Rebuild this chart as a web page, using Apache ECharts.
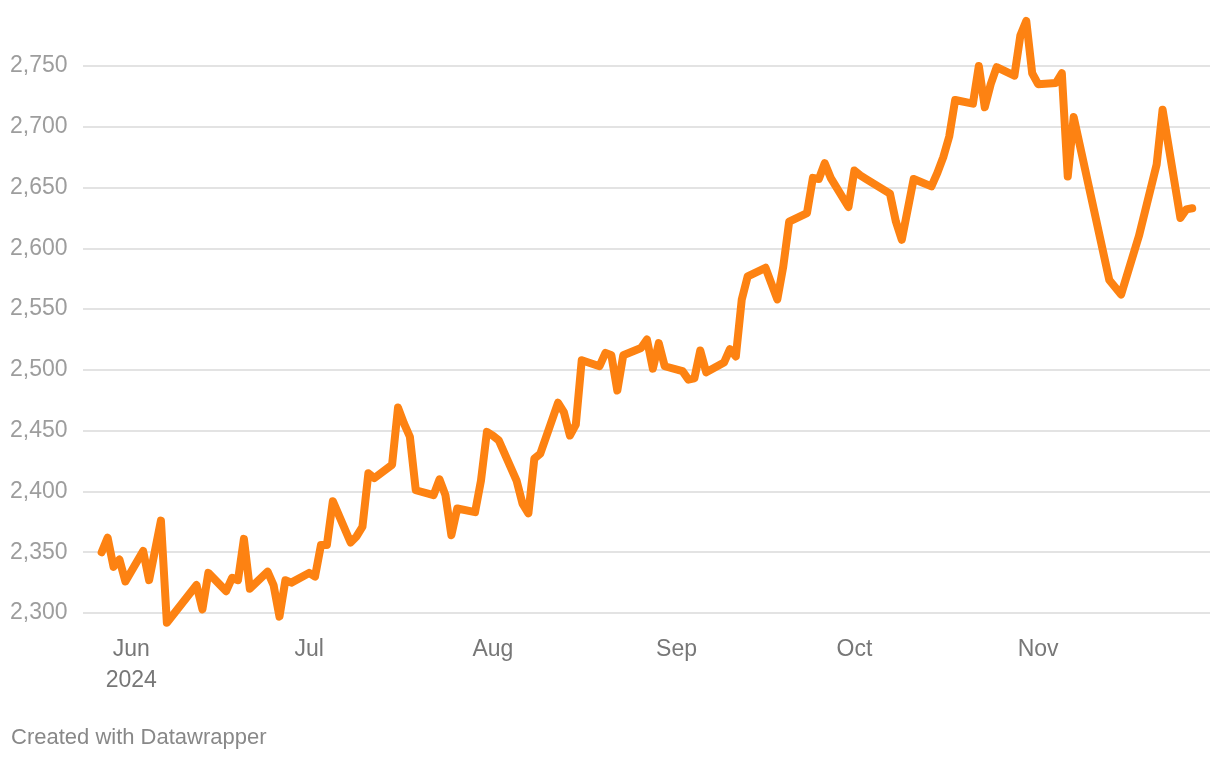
<!DOCTYPE html>
<html>
<head>
<meta charset="utf-8">
<script src="https://cdn.jsdelivr.net/npm/echarts@6.0.0/dist/echarts.min.js"></script>
<style>
  html, body { margin: 0; padding: 0; background: #ffffff; }
  #chart { width: 1220px; height: 760px; }
</style>
</head>
<body>
<div id="chart"></div>
<script>
// ---- Data ----
const dates = [
  '2024-05-27','2024-05-28','2024-05-29','2024-05-30','2024-05-31',
  '2024-06-03','2024-06-04','2024-06-06','2024-06-07',
  '2024-06-12','2024-06-13','2024-06-14',
  '2024-06-17','2024-06-18','2024-06-19','2024-06-20','2024-06-21',
  '2024-06-24','2024-06-25','2024-06-26','2024-06-27','2024-06-28',
  '2024-07-01','2024-07-02','2024-07-03','2024-07-04','2024-07-05',
  '2024-07-08','2024-07-09','2024-07-10','2024-07-11','2024-07-12',
  '2024-07-15','2024-07-16','2024-07-17','2024-07-18','2024-07-19',
  '2024-07-22','2024-07-23','2024-07-24','2024-07-25','2024-07-26',
  '2024-07-29','2024-07-30','2024-07-31','2024-08-01','2024-08-02',
  '2024-08-05','2024-08-06','2024-08-07','2024-08-08','2024-08-09',
  '2024-08-12','2024-08-13','2024-08-14','2024-08-15','2024-08-16',
  '2024-08-19','2024-08-20','2024-08-21','2024-08-22','2024-08-23',
  '2024-08-26','2024-08-27','2024-08-28','2024-08-29','2024-08-30',
  '2024-09-02','2024-09-03','2024-09-04','2024-09-05','2024-09-06',
  '2024-09-09','2024-09-10','2024-09-11','2024-09-12','2024-09-13',
  '2024-09-16','2024-09-17','2024-09-18','2024-09-19','2024-09-20',
  '2024-09-23','2024-09-24','2024-09-25','2024-09-26','2024-09-27',
  '2024-09-30','2024-10-01','2024-10-02','2024-10-03',
  '2024-10-07','2024-10-08','2024-10-09','2024-10-11',
  '2024-10-14','2024-10-15','2024-10-16','2024-10-17','2024-10-18',
  '2024-10-21','2024-10-22','2024-10-23','2024-10-24','2024-10-25',
  '2024-10-28','2024-10-29','2024-10-30','2024-10-31','2024-11-01',
  '2024-11-04','2024-11-05','2024-11-06','2024-11-07',
  '2024-11-13','2024-11-15','2024-11-18','2024-11-21','2024-11-22',
  '2024-11-25','2024-11-26','2024-11-27'
];
const prices = [
  2350, 2362, 2338, 2344, 2326,
  2351, 2327, 2376, 2292,
  2323, 2303, 2333,
  2318, 2329, 2327, 2361, 2320,
  2334, 2323, 2297, 2327, 2325,
  2333, 2330, 2356, 2356, 2392,
  2358, 2363, 2371, 2415, 2411,
  2422, 2469, 2456, 2445, 2401,
  2397, 2410, 2397, 2364, 2386,
  2383, 2409, 2449, 2446, 2442,
  2409, 2390, 2382, 2427, 2431,
  2473, 2465, 2446, 2455, 2508,
  2503, 2514, 2512, 2483, 2512,
  2518, 2525, 2501, 2522, 2503,
  2499, 2492, 2493, 2516, 2498,
  2506, 2517, 2511, 2558, 2577,
  2584, 2571, 2558, 2585, 2622,
  2629, 2658, 2657, 2670, 2658,
  2634, 2664, 2660, 2657,
  2645, 2622, 2607, 2657,
  2651, 2662, 2675, 2692, 2722,
  2719, 2750, 2716, 2735, 2749,
  2742, 2775, 2787, 2744, 2735,
  2736, 2744, 2659, 2708,
  2574, 2562, 2610, 2669, 2714,
  2625, 2632, 2633
];
const monthTicks = ['2024-06-01','2024-07-01','2024-08-01','2024-09-01','2024-10-01','2024-11-01'];
const monthNames = ['Jan','Feb','Mar','Apr','May','Jun','Jul','Aug','Sep','Oct','Nov','Dec'];
const yTicks = [2300, 2350, 2400, 2450, 2500, 2550, 2600, 2650, 2700, 2750];

// ---- helpers ----
const DAY = 86400000;
function ts(s) { const p = s.split('-').map(Number); return Date.UTC(p[0], p[1] - 1, p[2]); }
const seriesData = dates.map((d, i) => [ts(d), prices[i]]);
const jun1 = ts('2024-06-01');

const chart = echarts.init(document.getElementById('chart'), null, { renderer: 'canvas' });
const FONT = '"Liberation Sans", Arial, Helvetica, sans-serif';

chart.setOption({
  animation: false,
  backgroundColor: '#ffffff',
  grid: { left: 83, right: 10, top: 5.2, bottom: 86.2, containLabel: false },
  xAxis: {
    type: 'value',
    min: jun1 - 8.15 * DAY,
    max: jun1 + 182 * DAY,
    axisLine: { show: false },
    axisTick: { show: false },
    splitLine: { show: false },
    axisLabel: {
      customValues: monthTicks.map(ts),
      margin: -40,
      color: '#777777',
      fontFamily: FONT,
      fontSize: 23,
      lineHeight: 31,
      hideOverlap: false,
      showMinLabel: true,
      showMaxLabel: true,
      formatter: function (v) {
        const d = new Date(v);
        const m = monthNames[d.getUTCMonth()];
        return d.getUTCMonth() === 5 ? m + '\n' + d.getUTCFullYear() : m;
      }
    }
  },
  yAxis: {
    type: 'value',
    min: 2250,
    max: 2800,
    interval: 50,
    axisLine: { show: false },
    axisTick: { show: false },
    splitLine: {
      show: true,
      showMinLine: false,
      showMaxLine: false,
      lineStyle: { color: '#e3e3e3', width: 2 }
    },
    axisLabel: {
      showMinLabel: false,
      showMaxLabel: false,
      align: 'left',
      margin: 73,
      padding: [4, 0, 0, 0],
      color: '#9d9d9d',
      fontFamily: FONT,
      fontSize: 23,
      formatter: function (v) {
        return yTicks.indexOf(v) >= 0 ? v.toLocaleString('en-US') : '';
      }
    }
  },
  series: [{
    type: 'line',
    data: seriesData,
    showSymbol: false,
    symbol: 'none',
    smooth: false,
    lineStyle: { color: '#fd8212', width: 8, cap: 'round', join: 'round' },
    z: 5
  }],
  graphic: [{
    type: 'text',
    left: 11,
    top: 727,
    style: {
      text: 'Created with Datawrapper',
      fill: '#888888',
      font: '22px ' + FONT
    }
  }]
});
</script>
</body>
</html>
